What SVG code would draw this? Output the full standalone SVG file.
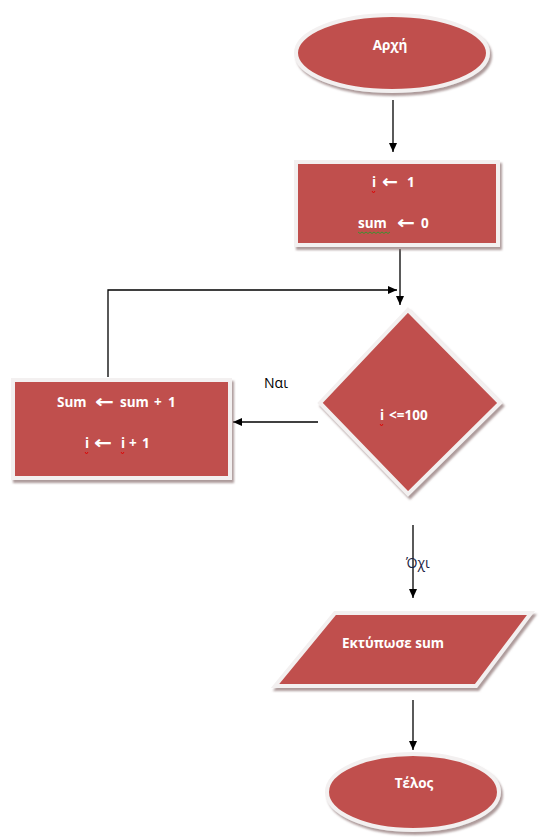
<svg xmlns="http://www.w3.org/2000/svg" width="540" height="839" viewBox="0 0 540 839">
<style>
.shape{fill:#C0504D;stroke:#F3F0F0;stroke-width:4;filter:url(#sh)}
.lbl{font-family:"Open Sans","Noto Sans","DejaVu Sans",sans-serif;font-weight:bold;font-size:13.5px;fill:#FFFFFF}
.mid{text-anchor:middle}
.arr{font-family:"DejaVu Sans",sans-serif;font-weight:bold;font-size:18px}
.edge{fill:none;stroke:#000;stroke-width:1.3}
.elbl{font-family:"Open Sans","Noto Sans","DejaVu Sans",sans-serif;font-size:14px}
.sq{fill:none;stroke-width:0.9}
</style>
<defs>
<filter id="sh" x="-10%" y="-10%" width="125%" height="130%">
<feDropShadow dx="2" dy="3" stdDeviation="1.2" flood-color="#8a7070" flood-opacity="0.7"/>
</filter>
<marker id="ah" markerWidth="10" markerHeight="10" refX="9" refY="5" orient="auto" markerUnits="userSpaceOnUse">
<path d="M0,1 L9,5 L0,9 Z" fill="#000"/>
</marker>
</defs>
<g id="connectors">
<path class="edge" d="M393,100 L393,152" marker-end="url(#ah)"/>
<path class="edge" d="M400,249 L400,305" marker-end="url(#ah)"/>
<path class="edge" d="M108,377 L108,290 L397,290" marker-end="url(#ah)"/>
<path class="edge" d="M318,422 L233,422" marker-end="url(#ah)"/>
<path class="edge" d="M413,525 L413,598" marker-end="url(#ah)"/>
<path class="edge" d="M413,700 L413,750" marker-end="url(#ah)"/>
<text class="elbl" x="276" y="388" text-anchor="middle" fill="#000">Ναι</text>
<text class="elbl" x="406" y="568" fill="#1A2242">Όχι</text>
</g>
<g id="start">
<ellipse class="shape" cx="392" cy="53" rx="96" ry="38"/>
<text class="lbl mid" x="390" y="50">Αρχή</text>
</g>
<g id="init">
<rect class="shape" x="296" y="162" width="202" height="83"/>
<text class="lbl" y="187"><tspan x="372">i</tspan><tspan class="arr" x="382" y="188" textLength="16" lengthAdjust="spacingAndGlyphs">←</tspan><tspan x="407" y="187">1</tspan></text>
<text class="lbl" y="228"><tspan x="358">sum</tspan><tspan class="arr" x="397" y="229" textLength="18" lengthAdjust="spacingAndGlyphs">←</tspan><tspan x="421" y="228">0</tspan></text>
<path class="sq" stroke="#E00000" d="M372,191 l1.5,2 l1.5,-2"/>
<path class="sq" stroke="#2E9B2E" d="M358,232 l2,1.5 l2,-1.5 l2,1.5 l2,-1.5 l2,1.5 l2,-1.5 l2,1.5 l2,-1.5 l2,1.5 l2,-1.5 l2,1.5 l2,-1.5 l2,1.5 l2,-1.5 l2,1.5 l2,-1.5"/>
</g>
<g id="cond">
<polygon class="shape" points="408,310 500,403 408,494 320,403"/>
<text class="lbl" y="420"><tspan x="380">i</tspan><tspan x="389">&lt;=100</tspan></text>
<path class="sq" stroke="#E00000" d="M380,424 l1.5,2 l1.5,-2"/>
</g>
<g id="body">
<rect class="shape" x="13" y="380" width="217" height="98"/>
<text class="lbl" y="407"><tspan x="57">Sum</tspan><tspan class="arr" x="95" y="408" textLength="19" lengthAdjust="spacingAndGlyphs">←</tspan><tspan x="120" y="407">sum</tspan><tspan x="154">+</tspan><tspan x="168">1</tspan></text>
<text class="lbl" y="448"><tspan x="85">i</tspan><tspan class="arr" x="94" y="449" textLength="18" lengthAdjust="spacingAndGlyphs">←</tspan><tspan x="121" y="448">i</tspan><tspan x="129">+</tspan><tspan x="142">1</tspan></text>
<path class="sq" stroke="#E00000" d="M85,452 l1.5,2 l1.5,-2"/>
<path class="sq" stroke="#E00000" d="M121,452 l1.5,2 l1.5,-2"/>
</g>
<g id="print">
<polygon class="shape" points="335,613 531,613 476,686 275,686"/>
<text class="lbl mid" x="393" y="648">Εκτύπωσε sum</text>
</g>
<g id="end">
<ellipse class="shape" cx="413" cy="792" rx="86" ry="38"/>
<text class="lbl mid" x="414" y="788">Τέλος</text>
</g>
</svg>
